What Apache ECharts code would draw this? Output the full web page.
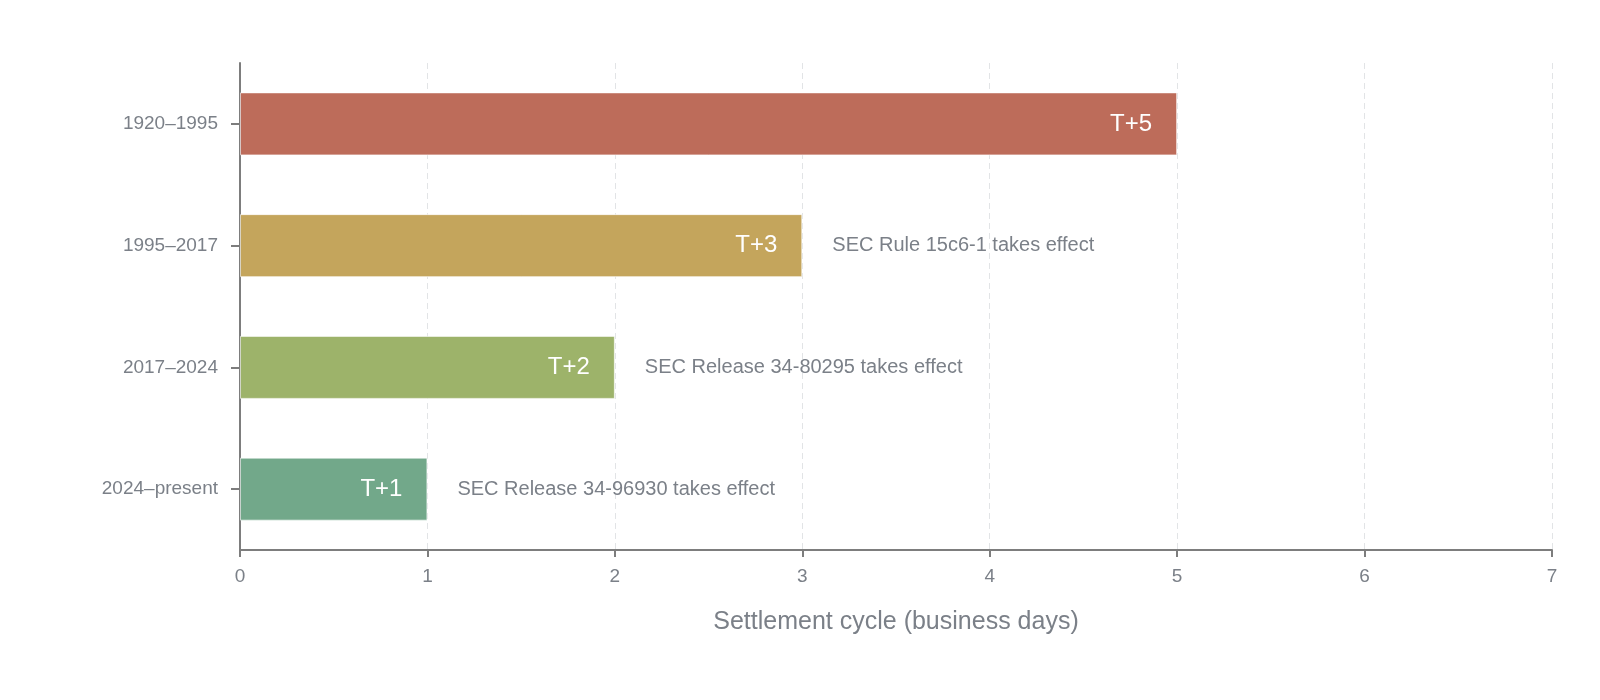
<!DOCTYPE html>
<html><head><meta charset="utf-8">
<script src="https://cdn.jsdelivr.net/npm/echarts@6/dist/echarts.min.js"></script>
<style>html,body{margin:0;padding:0;background:#fff}#c{width:1600px;height:700px}</style>
</head><body><div id="c"></div>
<script>
const periods = ['1920–1995', '1995–2017', '2017–2024', '2024–present'];
const days = [5, 3, 2, 1];
const cycleLabels = ['T+5', 'T+3', 'T+2', 'T+1'];
const notes = ['', 'SEC Rule 15c6-1 takes effect', 'SEC Release 34-80295 takes effect', 'SEC Release 34-96930 takes effect'];
const colors = ['#BD6C5A', '#C4A55C', '#9DB36A', '#72A88A'];
const xTicks = [0, 1, 2, 3, 4, 5, 6, 7];

const font = 'Liberation Sans, Helvetica, Arial, sans-serif';
const grey = '#7b8088';
const chart = echarts.init(document.getElementById('c'));
chart.setOption({
  animation: false,
  grid: { left: 240, right: 48, top: 63, bottom: 150 },
  xAxis: {
    type: 'value', min: xTicks[0], max: xTicks[xTicks.length - 1], interval: 1,
    name: 'Settlement cycle (business days)', nameLocation: 'middle', nameGap: 60,
    nameTextStyle: { fontFamily: font, fontSize: 25, color: grey },
    axisLine: { show: true, lineStyle: { color: '#7d7d7d', width: 2 } },
    axisTick: { show: true, length: 7, lineStyle: { color: '#7d7d7d', width: 2 } },
    axisLabel: { fontFamily: font, fontSize: 19, color: grey, margin: 17 },
    splitLine: { show: true, lineStyle: { color: '#e2e4e6', type: [6, 4], width: 1 } }
  },
  yAxis: {
    type: 'category', data: periods, inverse: true,
    axisLine: { show: true, lineStyle: { color: '#7d7d7d', width: 2 } },
    axisTick: { show: true, alignWithLabel: true, length: 9, lineStyle: { color: '#7d7d7d', width: 2 } },
    axisLabel: { fontFamily: font, fontSize: 19, color: grey, margin: 22 },
    splitLine: { show: false }
  },
  series: [
    {
      type: 'bar', barWidth: 63, barGap: '-100%',
      data: days.map((v, i) => ({ value: v, itemStyle: { color: colors[i] } })),
      itemStyle: { borderColor: 'rgba(255,255,255,0.6)', borderWidth: 1 },
      label: {
        show: true, position: 'insideRight', distance: 25,
        fontFamily: font, fontSize: 24, color: '#ffffff',
        formatter: p => cycleLabels[p.dataIndex]
      }
    },
    {
      type: 'bar', barWidth: 63, barGap: '-100%', silent: true,
      data: days, itemStyle: { color: 'rgba(0,0,0,0)' },
      label: {
        show: true, position: 'right', distance: 30,
        fontFamily: font, fontSize: 20, color: grey,
        formatter: p => notes[p.dataIndex]
      }
    }
  ]
});
</script></body></html>
